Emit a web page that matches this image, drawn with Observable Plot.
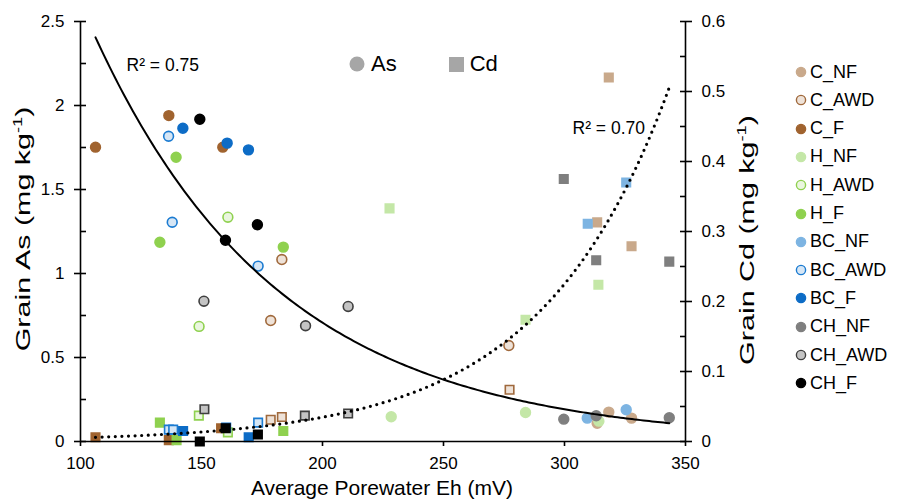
<!DOCTYPE html>
<html><head><meta charset="utf-8">
<script src="https://cdn.jsdelivr.net/npm/d3@7"></script>
<script src="https://cdn.jsdelivr.net/npm/@observablehq/plot@0.6"></script>
<style>
body{margin:0;background:#fff;font-family:"Liberation Sans",Arial,sans-serif;color:#000;}
#wrap{position:relative;width:902px;height:501px;overflow:hidden;}
.ov{position:absolute;white-space:nowrap;line-height:1;}
.ytitle{font-size:21px;transform:translate(-50%,-50%) rotate(-90deg) scaleX(1.45);}
.xtitle{font-size:21px;transform:translate(-50%,-50%);}
sup{font-size:0.6em;vertical-align:0.6em;line-height:0;}
.leg{position:absolute;font-size:18px;display:flex;align-items:center;}
.leg svg{margin-right:3px;}
</style></head><body><div id="wrap"></div>
<script>
// ---- series definitions ----
const groups  = ["C_NF","C_AWD","C_F","H_NF","H_AWD","H_F","BC_NF","BC_AWD","BC_F","CH_NF","CH_AWD","CH_F"];
const fills   = ["#c9a98b","#eee2d8","#a0632f","#c4e7a7","#eaf6df","#8fd14f","#7db4e2","#d6e6f5","#0d6cc6","#7f7f7f","#c4c4c4","#000000"];
const strokes = ["#c9a98b","#a0693c","#a0632f","#c4e7a7","#8fd14f","#8fd14f","#7db4e2","#1b7bd1","#0d6cc6","#7f7f7f","#3f3f3f","#000000"];

// ---- Grain As (circles) ----
const asGroup = ["C_NF","C_NF","C_NF","C_AWD","C_AWD","C_AWD","C_F","C_F","C_F",
                 "H_NF","H_NF","H_NF","H_AWD","H_AWD","H_F","H_F","H_F",
                 "BC_NF","BC_NF","BC_AWD","BC_AWD","BC_AWD","BC_F","BC_F","BC_F",
                 "CH_NF","CH_NF","CH_NF","CH_AWD","CH_AWD","CH_AWD","CH_F","CH_F","CH_F"];
const asEh  = [313.5,318.3,327.7, 178.6,183.2,277.0, 106.2,136.5,158.8,
               228.4,283.9,314.2, 149.0,160.9, 132.8,139.5,183.8,
               309.4,325.5, 136.4,137.9,173.4, 142.3,160.6,169.4,
               299.7,313.1,343.3, 151.0,193.0,210.6, 149.3,159.9,173.1];
const asVal = [0.109,0.175,0.139, 0.720,1.083,0.571, 1.752,1.940,1.752,
               0.147,0.173,0.121, 0.685,1.335, 1.186,1.692,1.157,
               0.139,0.189, 1.817,1.305,1.044, 1.865,1.776,1.736,
               0.133,0.153,0.141, 0.835,0.689,0.804, 1.918,1.198,1.290];

// ---- Grain Cd (squares) ----
const cdGroup = ["C_NF","C_NF","C_NF","C_AWD","C_AWD","C_AWD","C_F","C_F","C_F",
                 "H_NF","H_NF","H_NF","H_AWD","H_AWD","H_F","H_F","H_F",
                 "BC_NF","BC_NF","BC_AWD","BC_AWD","BC_AWD","BC_F","BC_F","BC_F",
                 "CH_NF","CH_NF","CH_NF","CH_AWD","CH_AWD","CH_AWD","CH_F","CH_F","CH_F"];
const cdEh  = [313.5,318.3,327.7, 178.6,183.2,277.3, 106.2,136.5,158.1,
               227.7,283.9,314.0, 148.9,160.9, 132.8,139.7,183.8,
               309.6,325.5, 136.5,138.3,173.4, 142.4,160.2,169.5,
               299.7,313.1,343.3, 151.2,192.7,210.6, 149.3,160.0,173.3];
const cdVal = [0.313,0.520,0.279, 0.031,0.035,0.074, 0.006,0.002,0.019,
               0.333,0.174,0.224, 0.037,0.013, 0.027,0.002,0.015,
               0.311,0.370, 0.017,0.017,0.027, 0.015,0.020,0.006,
               0.375,0.259,0.257, 0.046,0.037,0.040, 0.000,0.019,0.010];

// ---- exponential trendlines y = a*exp(b*x) ----
const asFit = {a: 9.62, b: -0.01305, label: "R² = 0.75"};
const cdFit = {a: 0.000824, b: 0.0187, label: "R² = 0.70"};
const fitRange = [106.2, 343.3];

// ---- ticks ----
const xTicks   = [100,150,200,250,300,350];
const asTicks  = [0,0.5,1,1.5,2,2.5];
const asMinor  = [0.25,0.75,1.25,1.75,2.25];
const cdTicks  = [0,0.1,0.2,0.3,0.4,0.5,0.6];
const cdMinor  = [0.05,0.15,0.25,0.35,0.45,0.55];
const asMax = 2.5, cdMax = 0.6;

// ---- build ----
const k = asMax / cdMax;
const fillOf = Object.fromEntries(groups.map((g,i)=>[g,fills[i]]));
const strokeOf = Object.fromEntries(groups.map((g,i)=>[g,strokes[i]]));
const asData = asEh.map((e,i)=>({g:asGroup[i], eh:e, v:asVal[i]}));
const cdData = cdEh.map((e,i)=>({g:cdGroup[i], eh:e, v:cdVal[i]*k}));
const order = g => groups.indexOf(g);
asData.sort((a,b)=>order(a.g)-order(b.g));
cdData.sort((a,b)=>order(a.g)-order(b.g));
const xs = d3.range(fitRange[0], fitRange[1]+0.001, (fitRange[1]-fitRange[0])/200);
const asCurve = xs.map(x=>({x, y: asFit.a*Math.exp(asFit.b*x)}));
const cdCurve = xs.map(x=>({x, y: cdFit.a*Math.exp(cdFit.b*x)*k}));

const axisStroke = {stroke:"#000", strokeWidth:1.6};
const chart = Plot.plot({
  width: 902, height: 501,
  marginLeft: 80, marginRight: 217, marginTop: 21, marginBottom: 60,
  x: {domain:[100,350]},
  y: {domain:[0,asMax]},
  color: {type:"identity"},
  style: {fontFamily:"'Liberation Sans', Arial, sans-serif", fontSize:"17px", color:"#000", background:"#fff", overflow:"visible"},
  marks: [
    Plot.dot(cdData, {x:"eh", y:"v", symbol:"square", r:4.8, fill:d=>fillOf[d.g], stroke:d=>strokeOf[d.g], strokeWidth:1.6}),
    Plot.dot(asData, {x:"eh", y:"v", symbol:"circle", r:4.9, fill:d=>fillOf[d.g], stroke:d=>strokeOf[d.g], strokeWidth:1.6}),
    Plot.line(asCurve, {x:"x", y:"y", stroke:"#000", strokeWidth:2}),
    Plot.line(cdCurve, {x:"x", y:"y", stroke:"#000", strokeWidth:3.2, strokeLinecap:"round", strokeDasharray:"0,6.6"}),
    Plot.ruleX([100], {...axisStroke}),
    Plot.ruleX([350], {...axisStroke}),
    Plot.ruleY([0], {...axisStroke}),
    Plot.axisX(xTicks, {tickSize:5, tickPadding:10, label:null, strokeWidth:1.6}),
    Plot.axisY(asTicks, {anchor:"left", tickSize:12, dx:6, tickPadding:10, label:null, strokeWidth:1.6,
      tickFormat: d => String(d)}),
    Plot.axisY(asMinor, {anchor:"left", tickSize:6, dx:6, fill:"none", label:null, strokeWidth:1.6}),
    Plot.axisY(cdTicks.map(v=>v*k), {anchor:"right", tickSize:12, dx:-6, tickPadding:10, label:null, strokeWidth:1.6,
      tickFormat: d => String(+(d/k).toFixed(2))}),
    Plot.axisY(cdMinor.map(v=>v*k), {anchor:"right", tickSize:6, dx:-6, fill:"none", label:null, strokeWidth:1.6}),
    Plot.text([asFit.label], {frameAnchor:"top-left", dx:46, dy:44, textAnchor:"start", lineAnchor:"middle", fontSize:17.5}),
    Plot.text([cdFit.label], {frameAnchor:"top-left", dx:492, dy:107, textAnchor:"start", lineAnchor:"middle", fontSize:17.5})
  ]
});
const wrap = document.getElementById("wrap");
wrap.appendChild(chart);

function addOv(html, cls, left, top){
  const d = document.createElement("div");
  d.className = "ov " + cls; d.innerHTML = html;
  d.style.left = left + "px"; d.style.top = top + "px";
  wrap.appendChild(d);
}
addOv("Grain As (mg kg<sup>-1</sup>)", "ytitle", 22, 229);
addOv("Grain Cd (mg kg<sup>-1</sup>)", "ytitle", 746, 240);
addOv("Average Porewater Eh (mV)", "xtitle", 382, 487);

// As / Cd key
const key = document.createElement("div");
key.className = "ov"; key.style.left = "349px"; key.style.top = "53px"; key.style.fontSize = "22px";
key.style.display = "flex"; key.style.alignItems = "center";
key.innerHTML = `<svg width="16" height="16"><circle cx="8" cy="8" r="7.5" fill="#a6a6a6"/></svg><span style="margin-left:6px">As</span>
<svg width="15" height="15" style="margin-left:52px"><rect width="15" height="15" fill="#a6a6a6"/></svg><span style="margin-left:6px">Cd</span>`;
wrap.appendChild(key);

// group legend
groups.forEach((g,i)=>{
  const d = document.createElement("div");
  d.className = "leg";
  d.style.left = "795px"; d.style.top = (72 + i*28.3 - 10) + "px"; d.style.height = "20px";
  d.innerHTML = `<svg width="12" height="12"><circle cx="6" cy="6" r="4.6" fill="${fills[i]}" stroke="${strokes[i]}" stroke-width="1.4"/></svg><span>${g}</span>`;
  wrap.appendChild(d);
});
</script></body></html>
